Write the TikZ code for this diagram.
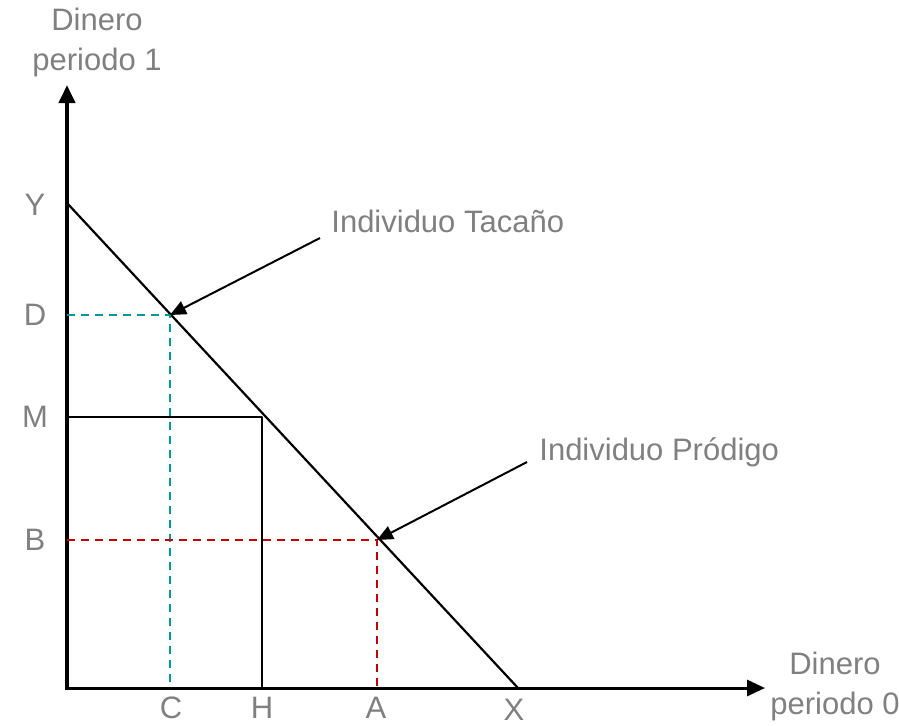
\documentclass[tikz,border=0pt]{standalone}
\usepackage{fontspec}
\setmainfont{Liberation Sans}
\usetikzlibrary{arrows.meta}
\definecolor{grisTexto}{HTML}{808080}
\definecolor{verdeAzul}{HTML}{009999}
\definecolor{rojoOsc}{HTML}{C00000}
\tikzset{
	etiqueta/.style={text=grisTexto, font=\fontsize{15.5}{20}\selectfont, inner sep=0pt},
	flecha/.style={-{Triangle[length=8pt,width=7pt]}, line width=1pt},
	guia/.style={dashed, dash pattern=on 4pt off 3pt, line width=0.8pt}
}
\begin{document}
\begin{tikzpicture}[x=0.5pt, y=-0.5pt, line join=round]
				\useasboundingbox (0,0) rectangle (899,725);
				\path 
				(67,688) coordinate (O)
				(67,85) coordinate (Ytop)
				(765,688) coordinate (Xfin)
				(67,203) coordinate (Y)
				(518,688) coordinate (X)
				(67,315) coordinate (D)
				(170,315) coordinate (PD)
				(170,688) coordinate (C)
				(67,417) coordinate (M)
				(262,417) coordinate (PM)
				(262,688) coordinate (H)
				(67,540) coordinate (B)
				(377,540) coordinate (PB)
				(377,688) coordinate (A)
				(320,238) coordinate (T1)
				(527,462) coordinate (P1)
				;
				% ejes
				\draw[-{Triangle[length=9pt,width=8pt]}, line width=2pt] (O)--(Ytop);
				\draw[-{Triangle[length=9pt,width=8pt]}, line width=1.5pt] ([xshift=-1pt]O)--(Xfin);
				% restriccion presupuestaria
				\draw[line width=1.1pt] (Y)--(X);
				\draw[line width=0.8pt] (M)--(PM)--(H);
				\draw[guia, verdeAzul] (D)--(PD)--(C);
				\draw[guia, rojoOsc] (B)--(PB)--(A);
				\draw[flecha] (T1)--(PD);
				\draw[flecha] (P1)--(PB);
				% textos
				\node[etiqueta, align=center] (ejeY) at (97,42) {Dinero\\periodo 1};
				\node[etiqueta, align=center] (ejeX) at (835,686) {Dinero\\periodo 0};
				\node[etiqueta] (lY) at (35,205) {Y};
				\node[etiqueta] (lD) at (35,315) {D};
				\node[etiqueta] (lM) at (35,417) {M};
				\node[etiqueta] (lB) at (35,540) {B};
				\node[etiqueta] (lC) at (171,708) {C};
				\node[etiqueta] (lH) at (262,708) {H};
				\node[etiqueta] (lA) at (376,708) {A};
				\node[etiqueta] (lX) at (514,710) {X};
				\node[etiqueta, anchor=west] (tacano) at (331,221) {Individuo Tacaño};
				\node[etiqueta, anchor=west] (prodigo) at (539,452) {Individuo Pródigo};
\end{tikzpicture}
\end{document}
